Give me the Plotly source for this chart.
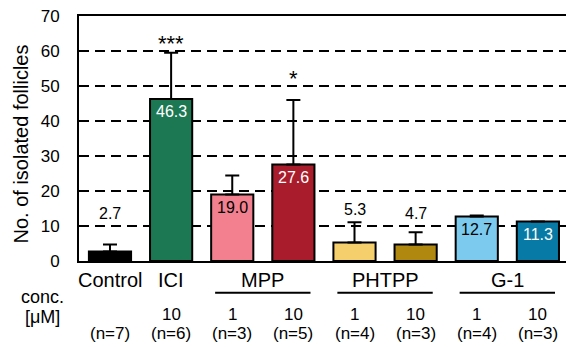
import plotly.graph_objects as go

# ---- data ----
bar_keys = ["Control", "ICI", "MPP1", "MPP10", "PHTPP1", "PHTPP10", "G1-1", "G1-10"]
values = [2.7, 46.3, 19.0, 27.6, 5.3, 4.7, 12.7, 11.3]
errors = [2.0, 13.2, 5.4, 18.4, 5.8, 3.5, 0.3, 0.0]
colors = ["#000000", "#1c7853", "#f2808f", "#a81c2c", "#f5cf6b", "#b08810", "#7ccbee", "#087aa6"]
label_pos = ["above", "inside", "inside", "inside", "above", "above", "inside", "inside"]
label_colors = ["#000000", "#ffffff", "#000000", "#ffffff", "#000000", "#000000", "#000000", "#ffffff"]
conc_labels = ["", "10", "1", "10", "1", "10", "1", "10"]
n_labels = [7, 6, 3, 5, 4, 3, 4, 3]
single_groups = {"Control": 0, "ICI": 1}
pair_groups = {"MPP": (2, 3), "PHTPP": (4, 5), "G-1": (6, 7)}
sig_marks = {1: "***", 3: "*"}
y_ticks = [0, 10, 20, 30, 40, 50, 60, 70]

FONT = "Liberation Sans, Arial, sans-serif"
W, H = 566, 347
M_L, M_R, M_T, M_B = 79, 0, 16, 86
plot_h = H - M_T - M_B

def py(pix):
    """convert pixel y (from top) to paper coordinate"""
    return (H - M_B - pix) / plot_h

x = list(range(len(values)))

fig = go.Figure()
fig.add_trace(go.Bar(
    x=x, y=values,
    width=0.69,
    marker=dict(color=colors, line=dict(color="black", width=2)),
    error_y=dict(type="data", array=errors, arrayminus=[0] * len(errors),
                 symmetric=False, color="black", thickness=2, width=7),
    showlegend=False,
    hoverinfo="skip",
))

ann = []
# value labels
for i, (v, e, pos, c) in enumerate(zip(values, errors, label_pos, label_colors)):
    if pos == "inside":
        ann.append(dict(x=i, y=v, xref="x", yref="y", text=f"{v:.1f}", showarrow=False,
                        yanchor="middle", yshift=-13,
                        font=dict(size=16, color=c, family=FONT)))
    else:
        ann.append(dict(x=i, y=max(v + e + 3.5, 13.7), xref="x", yref="y", text=f"{v:.1f}",
                        showarrow=False, yanchor="middle",
                        font=dict(size=16, color=c, family=FONT)))
# significance marks
sig_shift = {1: -5, 3: 7}
for i, s in sig_marks.items():
    ann.append(dict(x=i, y=values[i] + errors[i], xref="x", yref="y", text=s, showarrow=False,
                    yanchor="bottom", yshift=sig_shift[i],
                    font=dict(size=22, color="black", family=FONT)))

# category labels
for name, i in single_groups.items():
    ann.append(dict(x=i, y=py(280), xref="x", yref="paper", text=name, showarrow=False,
                    yanchor="middle", font=dict(size=20, color="black", family=FONT)))
shapes = []
for name, (a, b) in pair_groups.items():
    cx = (a + b) / 2
    ann.append(dict(x=cx, y=py(280), xref="x", yref="paper", text=name, showarrow=False,
                    yanchor="middle", font=dict(size=20, color="black", family=FONT)))
    shapes.append(dict(type="line", xref="x", yref="paper", x0=cx - 0.78, x1=cx + 0.78,
                       y0=py(292.7), y1=py(292.7), line=dict(color="black", width=2)))

# conc & n labels
for i, (cl, n) in enumerate(zip(conc_labels, n_labels)):
    if cl:
        ann.append(dict(x=i, y=py(314), xref="x", yref="paper", text=cl, showarrow=False,
                        yanchor="middle", borderpad=0,
                        font=dict(size=17, color="black", family=FONT)))
    ann.append(dict(x=i, y=py(333.5), xref="x", yref="paper", text=f"(n={n})", showarrow=False,
                    yanchor="middle", borderpad=0,
                    font=dict(size=17, color="black", family=FONT)))
ann.append(dict(x=(42 - M_L) / (W - M_L - M_R), y=py(296.5), xref="paper", yref="paper", text="conc.",
                showarrow=False, xanchor="center", yanchor="middle", borderpad=0,
                font=dict(size=18, color="black", family=FONT)))
ann.append(dict(x=(42 - M_L) / (W - M_L - M_R), y=py(316.5), xref="paper", yref="paper", text="[μM]",
                showarrow=False, xanchor="center", yanchor="middle", borderpad=0,
                font=dict(size=18, color="black", family=FONT)))
# y-axis title
ann.append(dict(x=(20 - M_L) / (W - M_L - M_R), y=py(144.5), xref="paper", yref="paper",
                text="No. of isolated follicles", textangle=-90, showarrow=False,
                xanchor="center", yanchor="middle", font=dict(size=20, color="black", family=FONT)))

fig.update_layout(
    width=W, height=H,
    margin=dict(l=M_L, r=M_R, t=M_T, b=M_B, pad=0, autoexpand=False),
    paper_bgcolor="white", plot_bgcolor="white",
    font=dict(family=FONT, color="black"),
    annotations=ann, shapes=shapes,
)
fig.update_xaxes(range=[-0.507, 7.46], showticklabels=False, ticks="", showgrid=False,
                 zeroline=False, showline=True, linecolor="black", linewidth=2, mirror=True)
fig.update_yaxes(range=[0, 70], tickvals=y_ticks, showgrid=True, gridcolor="black", gridwidth=2,
                 griddash="10px,6px", zeroline=False, showline=True, linecolor="black", linewidth=2,
                 ticks="", ticklabelstandoff=14, tickfont=dict(size=17, color="black", family=FONT))

fig.write_html("out.html", config={"displayModeBar": False},
               post_script="document.body.style.margin='0';document.body.style.overflow='hidden';")
